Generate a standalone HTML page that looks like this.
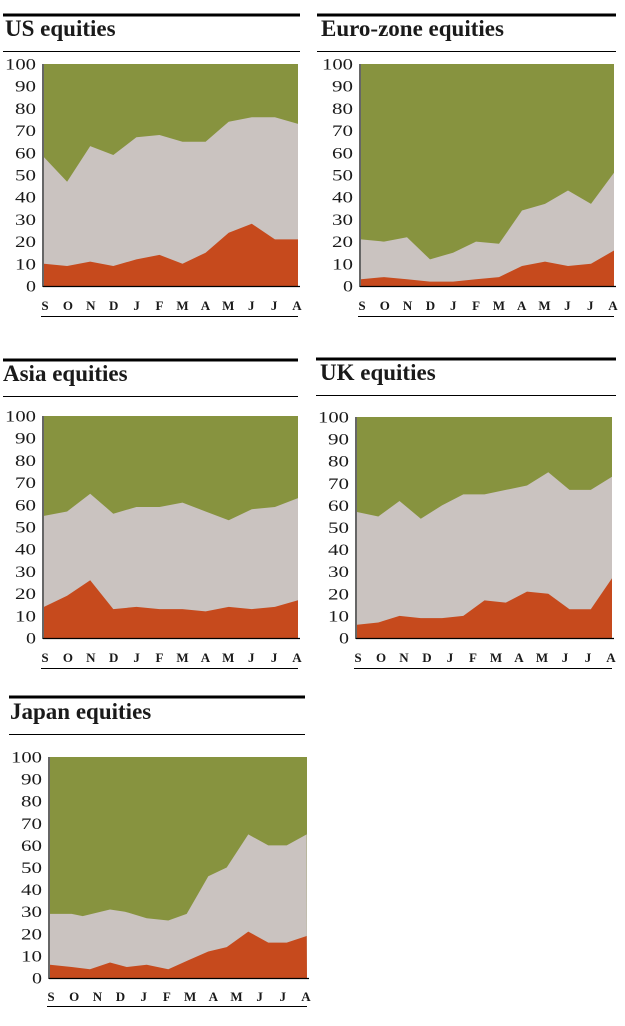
<!DOCTYPE html>
<html><head><meta charset="utf-8"><style>
html,body{margin:0;padding:0;background:#fff}
svg{display:block}
text{font-family:"Liberation Serif",serif;fill:#1a1a1a}
</style></head><body>
<svg id="s" width="625" height="1026" xmlns="http://www.w3.org/2000/svg"></svg>
<script>
var G='#87933f',R='#c64a1d',Y='#cac3c0';
var charts=[
{t:'US equities',tx:5,rx0:3,rx1:300,thick:15,thin:51,tb:36,x0:44,x1:298,y0:64,y1:286,lab:310,ul:316,
 top:[58,47,63,59,67,68,65,65,74,76,76,73],red:[10,9,11,9,12,14,10,15,24,28,21,21]},
{t:'Euro-zone equities',tx:321,rx0:317,rx1:616,thick:15,thin:51,tb:36,x0:361,x1:614,y0:64,y1:286,lab:310,ul:316,
 top:[21,20,22,12,15,20,19,34,37,43,37,51],red:[3,4,3,2,2,3,4,9,11,9,10,16]},
{t:'Asia equities',tx:3,rx0:3,rx1:298,thick:360,thin:396,tb:381,x0:44,x1:298,y0:416,y1:638,lab:662,ul:668,
 top:[55,57,65,56,59,59,61,57,53,58,59,63],red:[14,19,26,13,14,13,13,12,14,13,14,17]},
{t:'UK equities',tx:320,rx0:316,rx1:616,thick:359,thin:395,tb:380,x0:357,x1:612,y0:417,y1:638,lab:662,ul:668,
 top:[57,55,62,54,60,65,65,67,69,75,67,67,73],red:[6,7,10,9,9,10,17,16,21,20,13,13,27]},
{t:'Japan equities',tx:10,rx0:9,rx1:305,thick:697,thin:734,tb:719,x0:50,x1:307,y0:757,y1:978,lab:1001,ul:1006,
 topXY:[[150,29],[215,29],[248,28],[330,31],[375,30],[440,27],[505,26],[560,29],[625,46],[680,50],[745,65],[805,60],[860,60],[920,65]],
 redXY:[[150,6],[215,5],[270,4],[330,7],[380,5],[440,6],[505,4],[565,8],[625,12],[680,14],[745,21],[805,16],[860,16],[920,19]]}
];
var L=['S','O','N','D','J','F','M','A','M','J','J','A'];
var h='';
charts.forEach(function(c){
 var w=c.x1-c.x0,H=c.y1-c.y0;
 function Yv(v){return c.y1-v/100*H}
 function pts(arr,xy){
  if(xy) return arr.map(function(p){return [p[0]/3,Yv(p[1])]});
  var n=arr.length;return arr.map(function(v,i){return [c.x0+i*w/(n-1),Yv(v)]});
 }
 var tp=c.topXY?pts(c.topXY,1):pts(c.top),rp=c.redXY?pts(c.redXY,1):pts(c.red);
 function poly(p){return p.map(function(q){return q[0].toFixed(1)+','+q[1].toFixed(1)}).join(' ')}
 h+='<rect x="'+c.x0+'" y="'+c.y0+'" width="'+w+'" height="'+H+'" fill="'+G+'"/>';
 h+='<polygon fill="'+Y+'" points="'+c.x0+','+c.y1+' '+poly(tp)+' '+c.x1+','+c.y1+'"/>';
 h+='<polygon fill="'+R+'" points="'+c.x0+','+c.y1+' '+poly(rp)+' '+c.x1+','+c.y1+'"/>';
 h+='<rect x="'+c.rx0+'" y="'+(c.thick-1.5)+'" width="'+(c.rx1-c.rx0)+'" height="3" fill="#000"/>';
 h+='<rect x="'+c.rx0+'" y="'+c.thin+'" width="'+(c.rx1-c.rx0)+'" height="1" fill="#000"/>';
 h+='<text x="'+c.tx+'" y="'+c.tb+'" font-size="23" font-weight="bold">'+c.t+'</text>';
 h+='<line x1="'+(c.x0-1)+'" y1="'+c.y0+'" x2="'+(c.x0-1)+'" y2="'+(c.y1+1)+'" stroke="#000" stroke-width="1.2"/>';
 h+='<line x1="'+(c.x0-1)+'" y1="'+(c.y1+0.5)+'" x2="'+(c.x1+2)+'" y2="'+(c.y1+0.5)+'" stroke="#000" stroke-width="1.2"/>';
 for(var v=0;v<=100;v+=10){
  var tl=v==100?31:(v==0?10:21);
  h+='<text x="'+(c.x0-8-tl)+'" y="'+(Yv(v)+5.5)+'" font-size="16" textLength="'+tl+'" lengthAdjust="spacingAndGlyphs">'+v+'</text>';
 }
 L.forEach(function(l,i){
  var x=c.x0+1+i*(w-2)/11;
  h+='<text x="'+x.toFixed(1)+'" y="'+c.lab+'" font-size="13" font-weight="bold" text-anchor="middle">'+l+'</text>';
 });
 h+='<rect x="'+(c.x0-3)+'" y="'+c.ul+'" width="'+(w+3)+'" height="1" fill="#000"/>';
});
document.getElementById('s').innerHTML=h;
</script>
</body></html>
